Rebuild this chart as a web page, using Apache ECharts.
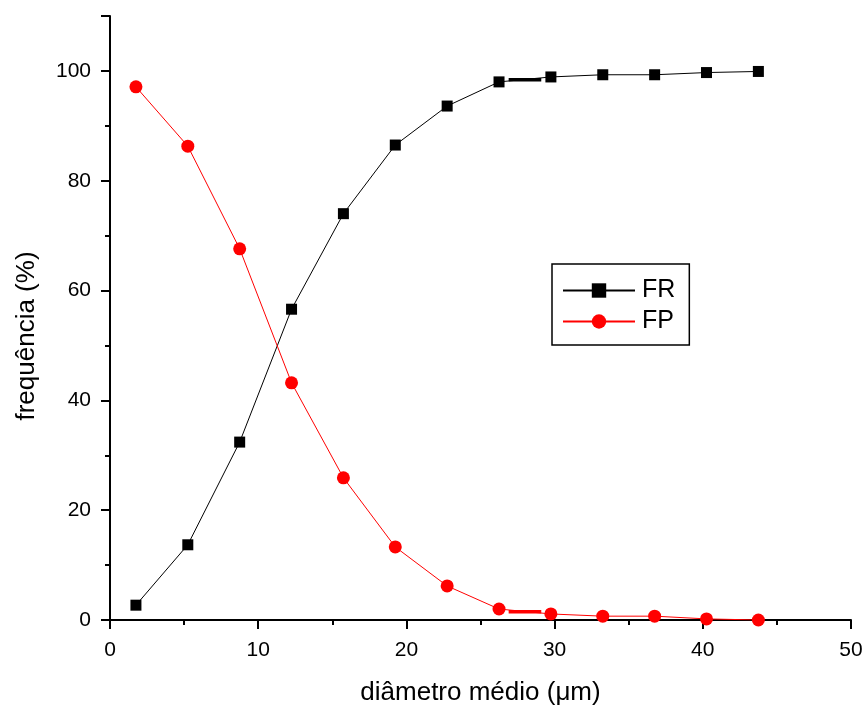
<!DOCTYPE html>
<html>
<head>
<meta charset="utf-8">
<script src="https://cdn.jsdelivr.net/npm/echarts@6/dist/echarts.min.js"></script>
<style>
  html, body { margin: 0; padding: 0; background: #fff; }
  #chart { width: 866px; height: 706px; }
</style>
</head>
<body>
<div id="chart"></div>
<script>
// Mean particle diameter (µm)
const diameters = [1.75, 5.25, 8.75, 12.25, 15.75, 19.25, 22.75, 26.25, 29.75, 33.25, 36.75, 40.25, 43.75];
// Cumulative retained fraction (%)
const frValues = [2.7, 13.7, 32.4, 56.6, 74.0, 86.5, 93.6, 98.0, 98.9, 99.3, 99.3, 99.7, 99.9];
// Cumulative passing fraction (%)
const fpValues = [97.1, 86.3, 67.6, 43.2, 25.9, 13.3, 6.2, 2.0, 1.1, 0.7, 0.7, 0.2, 0.0];
// Heavier stroke drawn over the 26–30 µm interval of each curve
const heavyX = [26.9, 29.1];
const heavyFR = [98.4, 98.4];
const heavyFP = [1.5, 1.5];

const xTicks = [0, 10, 20, 30, 40, 50];
const yTicks = [0, 20, 40, 60, 80, 100];

const pairs = (xs, ys) => xs.map((x, i) => [x, ys[i]]);

const font = '"Liberation Sans", Arial, sans-serif';
const chart = echarts.init(document.getElementById('chart'));

chart.setOption({
  animation: false,
  backgroundColor: '#fff',
  grid: { left: 110, right: 15, top: 16, bottom: 86, containLabel: false, outerBoundsMode: 'none' },
  xAxis: {
    type: 'value',
    min: xTicks[0],
    max: xTicks[xTicks.length - 1],
    interval: 10,
    name: 'diâmetro médio (μm)',
    nameLocation: 'middle',
    nameGap: 60,
    nameTextStyle: { fontFamily: font, fontSize: 26, color: '#000' },
    axisLine: { show: true, lineStyle: { color: '#000', width: 2 } },
    axisTick: { show: true, length: 9, lineStyle: { color: '#000', width: 2 } },
    minorTick: { show: true, splitNumber: 2, length: 5, lineStyle: { color: '#000', width: 2 } },
    axisLabel: { fontFamily: font, fontSize: 21, color: '#000', margin: 20 },
    splitLine: { show: false }
  },
  yAxis: {
    type: 'value',
    min: 0,
    max: 110,
    interval: 20,
    name: 'frequência (%)',
    nameLocation: 'middle',
    nameGap: 70,
    nameRotate: 90,
    nameTextStyle: { fontFamily: font, fontSize: 26, color: '#000', padding: [0, 36, 0, 0] },
    axisLine: { show: true, lineStyle: { color: '#000', width: 2 } },
    axisTick: { show: true, length: 9, lineStyle: { color: '#000', width: 2 } },
    minorTick: { show: true, splitNumber: 2, length: 5, lineStyle: { color: '#000', width: 2 } },
    axisLabel: {
      fontFamily: font, fontSize: 21, color: '#000', margin: 19,
      formatter: v => (yTicks.indexOf(v) >= 0 ? String(v) : '')
    },
    splitLine: { show: false }
  },
  legend: {
    orient: 'vertical',
    left: 552,
    top: 264,
    padding: [14, 14, 11, 10],
    itemGap: 6,
    itemWidth: 72,
    itemHeight: 18,
    borderColor: '#000',
    borderWidth: 1.5,
    borderRadius: 0,
    textStyle: { fontFamily: font, fontSize: 25, color: '#000', lineHeight: 24, padding: [0, 0, 0, 2] },
    data: ['FR', 'FP']
  },
  series: [
    {
      name: 'heavyFR',
      type: 'line',
      data: pairs(heavyX, heavyFR),
      symbol: 'none',
      lineStyle: { color: '#000', width: 3.5 },
      silent: true,
      z: 1
    },
    {
      name: 'heavyFP',
      type: 'line',
      data: pairs(heavyX, heavyFP),
      symbol: 'none',
      lineStyle: { color: '#ff0000', width: 3.5 },
      silent: true,
      z: 1
    },
    {
      name: 'FR',
      type: 'line',
      data: pairs(diameters, frValues),
      symbol: 'rect',
      symbolSize: 11,
      itemStyle: { color: '#000' },
      lineStyle: { color: '#000', width: 1 },
      z: 3
    },
    {
      name: 'FP',
      type: 'line',
      data: pairs(diameters, fpValues),
      symbol: 'circle',
      symbolSize: 13,
      itemStyle: { color: '#ff0000' },
      lineStyle: { color: '#ff0000', width: 1 },
      z: 3
    }
  ]
});
</script>
</body>
</html>
